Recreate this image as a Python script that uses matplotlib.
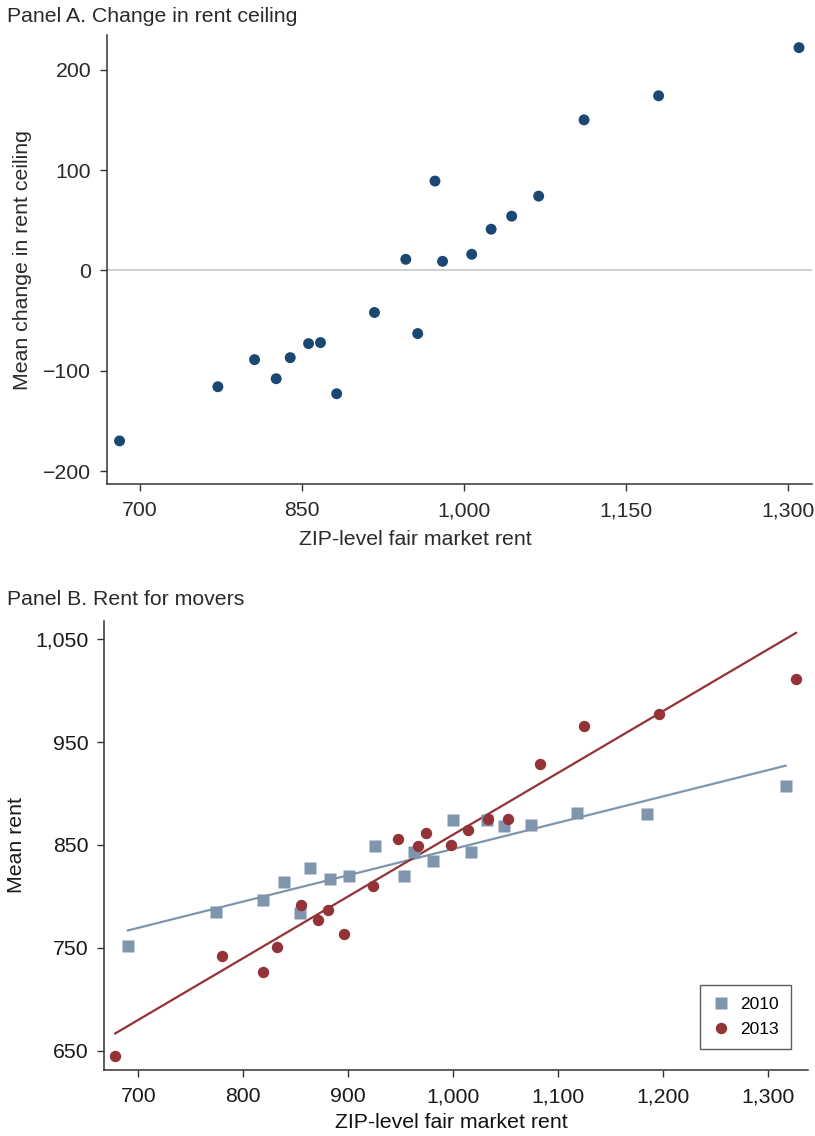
import matplotlib
matplotlib.use("Agg")
import matplotlib.pyplot as plt
from matplotlib.ticker import FuncFormatter

plt.rcParams["font.family"] = ["Liberation Sans", "DejaVu Sans"]

# Panel A: change in rent ceiling by ZIP-level FMR bin
fmrA = [681, 772, 806, 826, 839, 856, 867, 882, 917, 946, 957, 973, 980, 1007, 1025,
        1044, 1069, 1111, 1180, 1310]
ceiling_change = [-170, -116, -89, -108, -87, -73, -72, -123, -42, 11, -63, 89, 9, 16, 41,
                  54, 74, 150, 174, 222]

# Panel B: mean rent for movers
fmr2010 = [690, 774, 819, 839, 854, 864, 883, 901, 926, 953, 963, 981, 1000, 1017, 1032,
           1049, 1074, 1118, 1185, 1317]
rent2010 = [752, 785, 797, 814, 784, 828, 817, 820, 849, 820, 843, 834, 874, 843, 874,
            868, 869, 881, 880, 907]
fmr2013 = [678, 780, 819, 832, 855, 871, 881, 896, 924, 948, 967, 974, 998, 1014, 1033,
           1052, 1083, 1125, 1196, 1327]
rent2013 = [645, 742, 727, 751, 792, 777, 787, 764, 810, 856, 849, 862, 850, 865, 875,
            875, 929, 966, 977, 1011]
fit2010_y = [767, 927]
fit2013_y = [667, 1056]

xticksA = [700, 850, 1000, 1150, 1300]
yticksA = [-200, -100, 0, 100, 200]
xticksB = [700, 800, 900, 1000, 1100, 1200, 1300]
yticksB = [650, 750, 850, 950, 1050]

navy = "#1b4872"
blue2010 = "#7f95ad"
red2013 = "#933237"
spine_col = "#333333"
fs = 15.3

comma = FuncFormatter(lambda v, p: f"{v:,.0f}".replace("-", "\u2212"))

W, H = 815, 1136
fig = plt.figure(figsize=(W / 100, H / 100), dpi=100)


def style_axes(ax, txtcol):
    for s in ["top", "right"]:
        ax.spines[s].set_visible(False)
    for s in ["left", "bottom"]:
        ax.spines[s].set_color(spine_col)
        ax.spines[s].set_linewidth(1.1)
    ax.tick_params(direction="out", length=5, width=1, color=spine_col,
                   labelsize=fs, labelcolor=txtcol)
    ax.tick_params(axis="x", pad=7.5)
    ax.tick_params(axis="y", pad=6.5)
    ax.xaxis.set_major_formatter(comma)
    ax.yaxis.set_major_formatter(comma)


# ---- Panel A
axA = fig.add_axes([0.1313, 0.5739, 0.865, 0.3953])
axA.axhline(0, color="#cccccc", lw=1.3, zorder=1)
axA.scatter(fmrA, ceiling_change, s=62, color=navy, edgecolors="none", zorder=3)
axA.set_xlim(669.4, 1322)
axA.set_ylim(-213, 234.6)
axA.set_xticks(xticksA)
axA.set_yticks(yticksA)
style_axes(axA, "#2a2a2a")
fig.text(22.5 / W, 1 - 260 / H, "Mean change in rent ceiling", fontsize=fs,
         color="#2a2a2a", rotation=90, ha="center", va="center")
fig.text(415 / W, 1 - 540 / H, "ZIP-level fair market rent", fontsize=fs,
         color="#2a2a2a", ha="center", va="center")
fig.text(7 / W, 1 - 22.5 / H, "Panel A. Change in rent ceiling", fontsize=fs,
         color="#2a2a2a", ha="left", va="baseline")

# ---- Panel B
axB = fig.add_axes([0.128, 0.0581, 0.8638, 0.3955])
axB.plot([fmr2010[0], fmr2010[-1]], fit2010_y, color=blue2010, lw=1.6, zorder=2)
axB.plot([fmr2013[0], fmr2013[-1]], fit2013_y, color=red2013, lw=1.6, zorder=2)
axB.plot(fmr2010, rent2010, "s", ms=8.2, color=blue2010, mec="none", zorder=3, label="2010")
axB.plot(fmr2013, rent2013, "o", ms=8.2, color=red2013, mec="none", zorder=4, label="2013")
axB.set_xlim(667.6, 1338.7)
axB.set_ylim(631.5, 1067.8)
axB.set_xticks(xticksB)
axB.set_yticks(yticksB)
style_axes(axB, "#1a1a1a")
fig.text(17 / W, 1 - 845 / H, "Mean rent", fontsize=fs, color="#1a1a1a",
         rotation=90, ha="center", va="center")
fig.text(451 / W, 1 - 1123 / H, "ZIP-level fair market rent", fontsize=fs,
         color="#111111", ha="center", va="center")
fig.text(7 / W, 1 - 605 / H, "Panel B. Rent for movers", fontsize=fs,
         color="#2a2a2a", ha="left", va="baseline")

leg = axB.legend(loc="lower right", bbox_to_anchor=(0.9754, 0.046), borderaxespad=0,
                 fontsize=12.5, frameon=True, fancybox=False, handletextpad=0.6,
                 handlelength=1.0, borderpad=0.7, labelspacing=0.55)
leg.get_frame().set_edgecolor("#333333")
leg.get_frame().set_linewidth(1.0)

fig.savefig("out.png", dpi=100)
